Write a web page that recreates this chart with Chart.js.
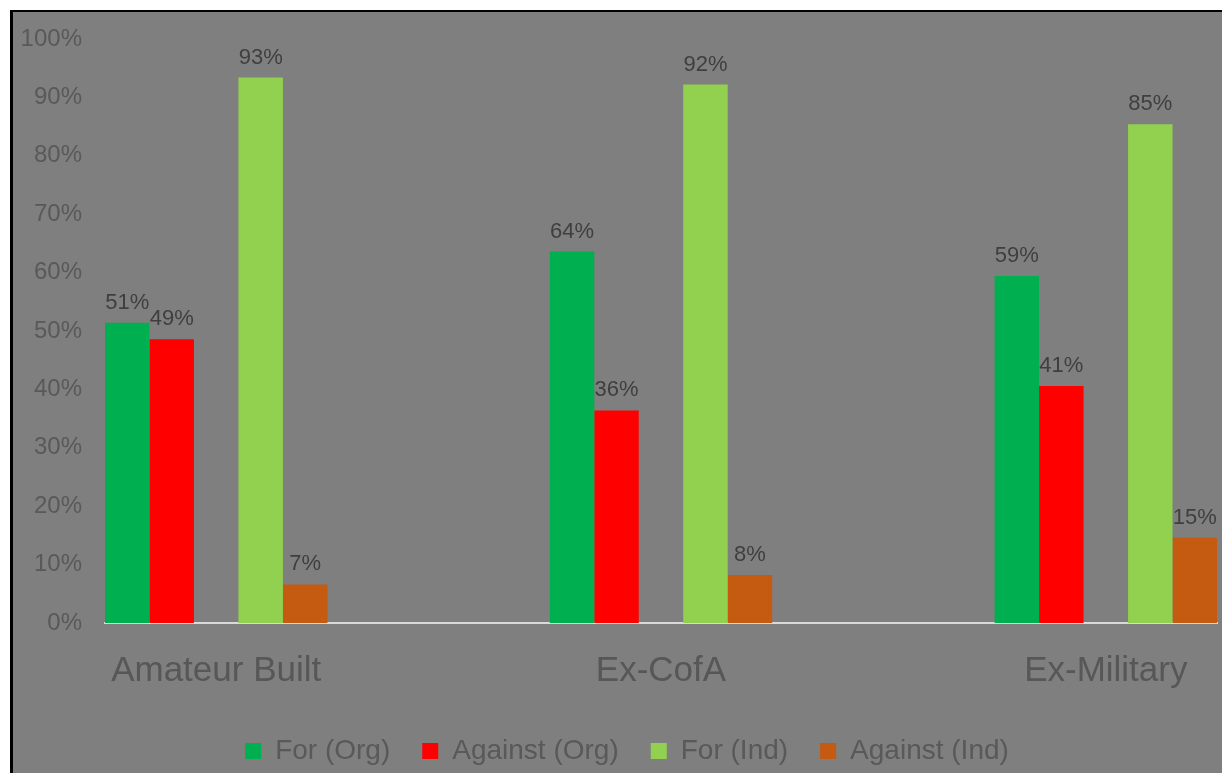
<!DOCTYPE html>
<html>
<head>
<meta charset="utf-8">
<script src="https://cdn.jsdelivr.net/npm/chart.js@4.4.1/dist/chart.umd.min.js"></script>
<style>
  html, body { margin: 0; padding: 0; background: #ffffff; overflow: hidden; width: 1222px; height: 773px; }
  #box { position: absolute; left: 10px; top: 10px; border-top: 2px solid #000; border-left: 3px solid #000; background: #7f7f7f; width: 1231px; height: 790px; }
  canvas { display: block; margin-left: -1px; }
</style>
</head>
<body>
<div id="box"><canvas id="c" width="1231" height="790"></canvas></div>
<script>
const categories = ['Amateur Built', 'Ex-CofA', 'Ex-Military'];
const seriesNames = ['For (Org)', 'Against (Org)', 'For (Ind)', 'Against (Ind)'];
const forOrg = [51.4, 63.6, 59.4];
const againstOrg = [48.6, 36.4, 40.6];
const forInd = [93.4, 92.2, 85.4];
const againstInd = [6.6, 8.2, 14.6];
const yTickValues = [0, 10, 20, 30, 40, 50, 60, 70, 80, 90, 100];

const FONT = "'Liberation Sans', Arial, sans-serif";
const pts = arr => arr.map((v, i) => ({ x: i, y: v }));

const dataLabels = {
  id: 'dataLabels',
  afterDatasetsDraw(chart) {
    const ctx = chart.ctx;
    ctx.save();
    ctx.font = '22px ' + FONT;
    ctx.fillStyle = '#3f3f3f';
    ctx.textAlign = 'center';
    ctx.textBaseline = 'alphabetic';
    chart.data.datasets.forEach((ds, di) => {
      if (ds.spacer) return;
      const meta = chart.getDatasetMeta(di);
      meta.data.forEach((el, i) => {
        const v = ds.data[i].y;
        ctx.fillText(Math.round(v) + '%', el.x, el.y - 14);
      });
    });
    ctx.restore();
  }
};

const legendShift = {
  id: 'legendShift',
  afterLayout(chart) {
    if (chart.legend) { chart.legend.left += 10; chart.legend.right += 10; }
  }
};

new Chart(document.getElementById('c'), {
  type: 'bar',
  data: {
    datasets: [
      { label: seriesNames[0], data: pts(forOrg), backgroundColor: '#00B050' },
      { label: seriesNames[1], data: pts(againstOrg), backgroundColor: '#FF0000' },
      { label: '', data: pts([null, null, null]), backgroundColor: 'rgba(0,0,0,0)', spacer: true },
      { label: seriesNames[2], data: pts(forInd), backgroundColor: '#92D050' },
      { label: seriesNames[3], data: pts(againstInd), backgroundColor: '#C55A11' }
    ]
  },
  options: {
    responsive: false,
    animation: false,
    devicePixelRatio: 1,
    layout: { padding: { top: 27, left: 5, right: 26, bottom: 27 } },
    datasets: { bar: { categoryPercentage: 0.5, barPercentage: 1.0 } },
    scales: {
      x: {
        type: 'linear',
        min: -0.25,
        max: 2.25,
        offset: false,
        grid: { display: false, drawTicks: false },
        border: { display: true, color: '#d9d9d9', width: 2 },
        afterBuildTicks: s => { s.ticks = categories.map((c, i) => ({ value: i })); },
        afterFit: s => { s.height = 82; s.paddingLeft = 0; s.paddingRight = 0; },
        ticks: {
          padding: 27,
          color: '#575757',
          font: { family: FONT, size: 35 },
          callback: v => categories[v]
        }
      },
      y: {
        min: 0,
        max: 100,
        grid: { display: false, drawTicks: false },
        border: { display: false },
        afterBuildTicks: s => { s.ticks = yTickValues.map(v => ({ value: v })); },
        afterFit: s => { s.width = 88; s.paddingTop = 12; s.paddingBottom = 12; },
        ticks: {
          padding: 23,
          color: '#595959',
          font: { family: FONT, size: 24 },
          callback: v => v + '%'
        }
      }
    },
    plugins: {
      tooltip: { enabled: false },
      legend: {
        position: 'bottom',
        labels: {
          filter: item => item.text !== '',
          boxWidth: 16,
          boxHeight: 16,
          padding: 32,
          color: '#595959',
          font: { family: FONT, size: 28 }
        }
      }
    }
  },
  plugins: [dataLabels, legendShift]
});
</script>
</body>
</html>
